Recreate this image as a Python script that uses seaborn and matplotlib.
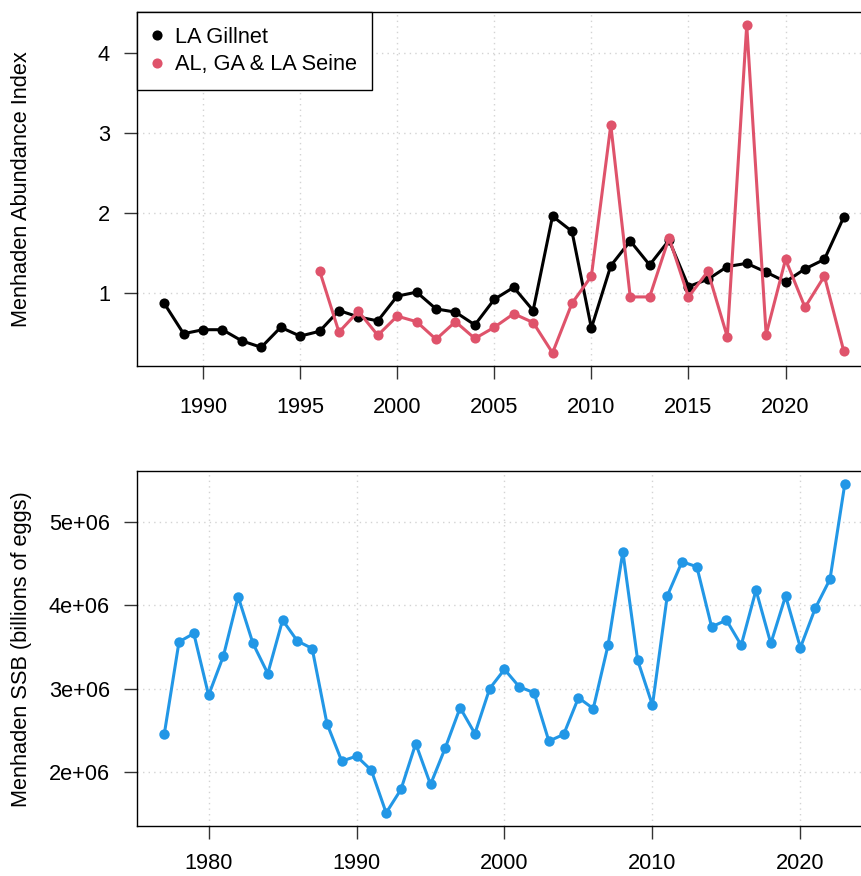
import numpy as np
import pandas as pd
import seaborn as sns
import matplotlib.pyplot as plt
from matplotlib.lines import Line2D

# --- data ---
gillnet_years = list(range(1988, 2024))
gillnet_index = [0.87, 0.49, 0.54, 0.54, 0.40, 0.32, 0.57, 0.46, 0.52, 0.78,
                 0.70, 0.65, 0.96, 1.01, 0.80, 0.76, 0.60, 0.92, 1.07, 0.78,
                 1.96, 1.77, 0.56, 1.34, 1.65, 1.35, 1.66, 1.08, 1.17, 1.33,
                 1.37, 1.26, 1.14, 1.30, 1.42, 1.95]

seine_years = list(range(1996, 2024))
seine_index = [1.28, 0.51, 0.77, 0.47, 0.71, 0.64, 0.42, 0.64, 0.43, 0.57,
               0.74, 0.63, 0.25, 0.87, 1.21, 3.10, 0.95, 0.95, 1.69, 0.95,
               1.27, 0.45, 4.35, 0.48, 1.42, 0.82, 1.21, 0.27]

ssb_years = list(range(1977, 2024))
ssb_eggs = [2.45e6, 3.56e6, 3.66e6, 2.92e6, 3.39e6, 4.10e6, 3.54e6, 3.18e6,
            3.82e6, 3.57e6, 3.48e6, 2.58e6, 2.13e6, 2.19e6, 2.02e6, 1.51e6,
            1.79e6, 2.34e6, 1.85e6, 2.29e6, 2.77e6, 2.46e6, 3.00e6, 3.23e6,
            3.02e6, 2.95e6, 2.37e6, 2.45e6, 2.89e6, 2.76e6, 3.52e6, 4.64e6,
            3.34e6, 2.80e6, 4.11e6, 4.52e6, 4.46e6, 3.74e6, 3.82e6, 3.52e6,
            4.18e6, 3.54e6, 4.11e6, 3.49e6, 3.96e6, 4.31e6, 5.45e6]

top_xticks = [1990, 1995, 2000, 2005, 2010, 2015, 2020]
top_yticks = [1, 2, 3, 4]
bot_xticks = [1980, 1990, 2000, 2010, 2020]
bot_yticks = [2e6, 3e6, 4e6, 5e6]
bot_ylabels = ["2e+06", "3e+06", "4e+06", "5e+06"]

gill_col = "black"
seine_col = "#DF536B"
ssb_col = "#2297E6"

FS = 15.7

sns.set_style("white")
plt.rcParams['font.family'] = ['Liberation Sans', 'DejaVu Sans']
plt.rcParams['text.color'] = 'black'

fig = plt.figure(figsize=(8.61, 8.76), dpi=100)
ax1 = fig.add_axes([137 / 861, 1 - 366 / 876, 734 / 861, 354 / 876])
ax2 = fig.add_axes([137 / 861, 1 - 826 / 876, 735 / 861, 355 / 876])

df_g = pd.DataFrame({"year": gillnet_years, "val": gillnet_index})
df_s = pd.DataFrame({"year": seine_years, "val": seine_index})
df_b = pd.DataFrame({"year": ssb_years, "val": ssb_eggs})

lkw = dict(marker="o", markersize=7.3, markeredgewidth=0, linewidth=2.2)
sns.lineplot(data=df_g, x="year", y="val", color=gill_col, ax=ax1, zorder=3, **lkw)
sns.lineplot(data=df_s, x="year", y="val", color=seine_col, ax=ax1, zorder=3, **lkw)
sns.lineplot(data=df_b, x="year", y="val", color=ssb_col, ax=ax2, zorder=3,
             marker="o", markersize=7.5, markeredgewidth=0, linewidth=2.2)


def pad_range(lo, hi):
    d = (hi - lo) * 0.04
    return lo - d, hi + d


ax1.set_xlim(pad_range(min(gillnet_years), max(gillnet_years)))
ax1.set_ylim(pad_range(min(seine_index), max(seine_index)))
ax2.set_xlim(pad_range(min(ssb_years), max(ssb_years)))
ax2.set_ylim(pad_range(min(ssb_eggs), max(ssb_eggs)))

ax1.set_xticks(top_xticks)
ax1.set_yticks(top_yticks)
ax1.set_yticklabels([str(t) for t in top_yticks])
ax2.set_xticks(bot_xticks)
ax2.set_yticks(bot_yticks)
ax2.set_yticklabels(bot_ylabels)

for ax in (ax1, ax2):
    ax.grid(True, color="#D3D3D3", linestyle=(0, (1, 3)), linewidth=1.0, zorder=0)
    ax.set_axisbelow(True)
    for sp in ax.spines.values():
        sp.set_visible(True)
        sp.set_color("black")
        sp.set_linewidth(1.0)
    ax.tick_params(axis="both", direction="out", length=9.5, width=1.0,
                   bottom=True, left=True, color="#333333",
                   labelsize=FS, labelcolor="black")
    ax.tick_params(axis="y", pad=10)
    ax.set_xlabel("")
    ax.set_ylabel("")
ax1.tick_params(axis="x", pad=13)
ax2.tick_params(axis="x", pad=10)

fig.text(22 / 861, 1 - 189 / 876, "Menhaden Abundance Index", rotation=90,
         ha="center", va="center", fontsize=FS)
fig.text(22 / 861, 1 - 649 / 876, "Menhaden SSB (billions of eggs)", rotation=90,
         ha="center", va="center", fontsize=FS)

handles = [Line2D([], [], linestyle="none", marker="o", markersize=7.3,
                  markeredgewidth=0, color=gill_col),
           Line2D([], [], linestyle="none", marker="o", markersize=7.3,
                  markeredgewidth=0, color=seine_col)]
leg = ax1.legend(handles, ["LA Gillnet", "AL, GA & LA Seine"], loc="upper left",
                 borderaxespad=0, fancybox=False, framealpha=1, edgecolor="black",
                 fontsize=FS, handlelength=0.5, handletextpad=0.55,
                 borderpad=0.68, labelspacing=0.3)
leg.get_frame().set_linewidth(1.0)

fig.savefig("out.png", dpi=100)
